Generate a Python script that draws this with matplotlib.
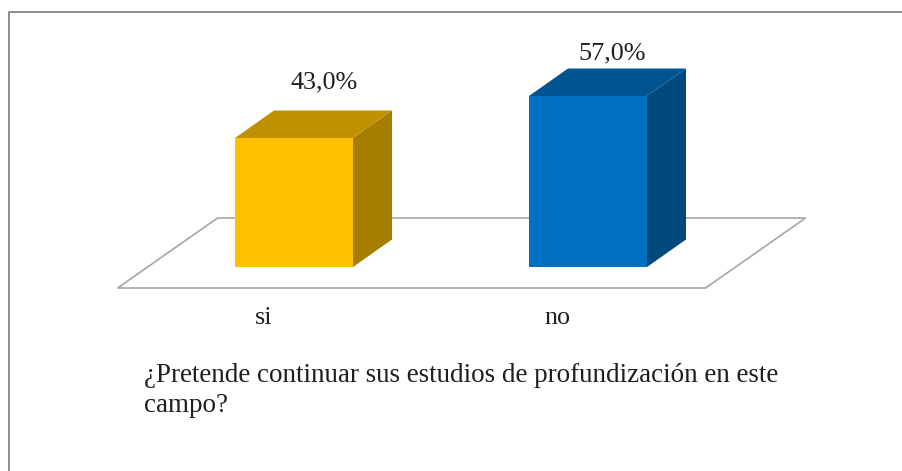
import matplotlib
matplotlib.use("Agg")
import matplotlib.pyplot as plt
from matplotlib.patches import Polygon

categories = ["si", "no"]
values = [43.0, 57.0]
value_labels = ["43,0%", "57,0%"]
title_lines = ["¿Pretende continuar sus estudios de profundización en este", "campo?"]

FRONT = ["#FFC000", "#0070C0"]
TOP = ["#BF9000", "#005490"]
SIDE = ["#A67D00", "#00497D"]
INK = "#1F1F1F"
FLOOR = "#A6A6A6"
LABEL_DX = [30 / 294, 24 / 294]
LABEL_DY = [9.4, 5.0]

W, H = 902, 471
PX_X = 294.0  # pixels per category
PX_Y = 3.0  # pixels per percent
BAR_W = 118 / PX_X
DX = 39 / PX_X
DY = 27.5 / PX_Y
FS = 18.8

plt.rcParams["font.family"] = ["Liberation Serif", "DejaVu Serif"]

fig = plt.figure(figsize=(W / 100, H / 100), dpi=100, facecolor="white")
ax = fig.add_axes([0, 0, 1, 1])
ax.set_xlim(-294 / PX_X, (W - 294) / PX_X)
ax.set_ylim(-(H - 267) / PX_Y, 267 / PX_Y)
ax.axis("off")

# outer frame, only top and left are in the crop
ax.plot([9 / W, 9 / W, 1], [0, 1 - 12 / H, 1 - 12 / H], transform=ax.transAxes, color="#8C8C8C", lw=1.4)

# floor of the 3d plot
floor_pts = [(-0.6, -7), (1.4, -7), (1.74, 16.33), (-0.26, 16.33)]
ax.add_patch(Polygon(floor_pts, closed=True, facecolor="white", edgecolor=FLOOR, lw=1.2, zorder=1))

for i, val in enumerate(values):
    x0 = i - BAR_W / 2
    x1 = i + BAR_W / 2
    ax.add_patch(Polygon([(x1, 0), (x1 + DX, DY), (x1 + DX, val + DY), (x1, val)], facecolor=SIDE[i], lw=0, zorder=2))
    ax.add_patch(Polygon([(x0, val), (x1, val), (x1 + DX, val + DY), (x0 + DX, val + DY)], facecolor=TOP[i], lw=0, zorder=2))
    ax.bar(i, val, width=BAR_W, color=FRONT[i], linewidth=0, zorder=3)
    ax.text(i + LABEL_DX[i], val + DY + LABEL_DY[i], value_labels[i], ha="center", va="center", fontsize=FS, color=INK)
    ax.text(i - 0.105, -17.0, categories[i], ha="center", va="center", fontsize=FS, color=INK)

ax.text(144 / W, 1 - 376 / H, title_lines[0], transform=ax.transAxes, ha="left", va="center", fontsize=FS + 0.65, color=INK)
ax.text(144 / W, 1 - 406 / H, title_lines[1], transform=ax.transAxes, ha="left", va="center", fontsize=FS + 0.65, color=INK)

fig.savefig("out.png", dpi=100)
plt.close(fig)
